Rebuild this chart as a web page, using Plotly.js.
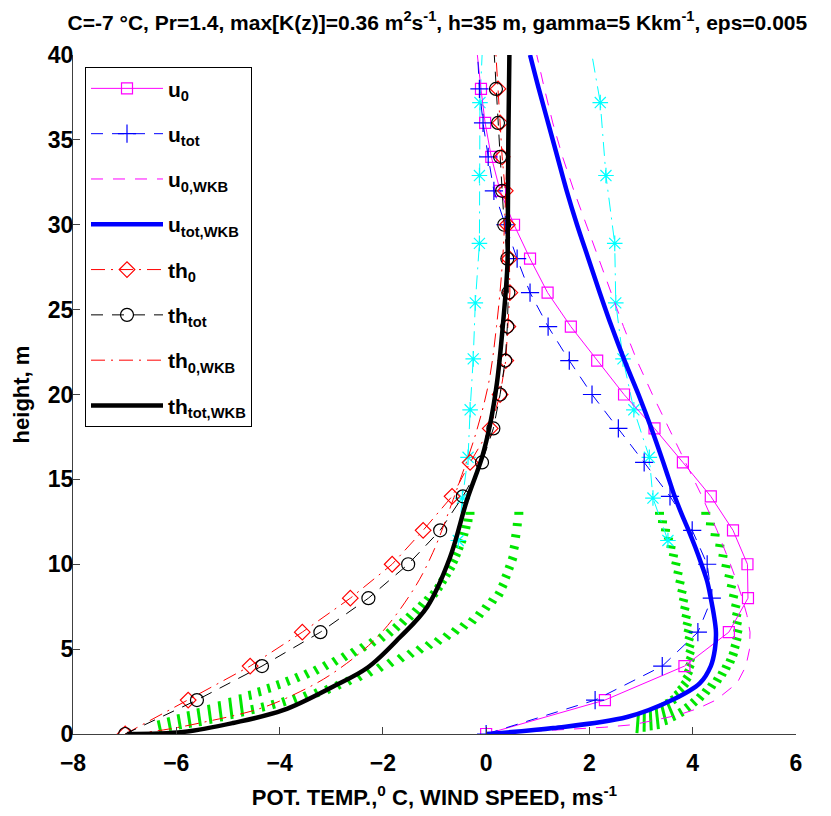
<!DOCTYPE html>
<html>
<head>
<meta charset="utf-8">
<script src="https://cdn.plot.ly/plotly-3.0.1.min.js"></script>
<style>html,body{margin:0;padding:0;background:#fff;}#chart{width:831px;height:816px;}</style>
</head>
<body>
<div id="chart"></div>
<script>
// ---- data ----
const zMark = [0,2,4,6,8,10,12,14,16,18,20,22,24,26,28,30,32,34,36,38,42];
const u0    = [0,2.3,3.84,4.7,5.07,5.06,4.78,4.35,3.81,3.26,2.67,2.15,1.64,1.19,0.85,0.54,0.27,0.1,-0.02,-0.1,-0.24];
const uTot  = [0,2.11,3.41,4.1,4.37,4.28,3.99,3.56,3.06,2.56,2.05,1.61,1.2,0.85,0.6,0.37,0.15,0.04,-0.06,-0.13,-0.2];
const th0   = [-6.99,-5.77,-4.57,-3.56,-2.63,-1.82,-1.22,-0.66,-0.31,0.08,0.27,0.38,0.42,0.46,0.45,0.41,0.37,0.31,0.27,0.23,0.15];
const thTot = [-6.99,-5.6,-4.34,-3.21,-2.28,-1.51,-0.89,-0.45,-0.08,0.14,0.27,0.37,0.41,0.43,0.41,0.35,0.31,0.27,0.23,0.19,0.12];

const zU0W  = [0,0.25,0.4,0.55,0.8,1.1,1.5,2,3,4,5,6,7,8,9,10,12,14,16,18,20,22,24,26,28,30,32,34,36,38,40];
const u0W   = [0,1.5,2.3,2.85,3.25,3.7,4.1,4.45,4.86,5.03,5.1,5.11,5.05,4.96,4.85,4.73,4.47,4.18,3.86,3.54,3.22,2.92,2.66,2.42,2.18,1.94,1.7,1.48,1.29,1.13,0.98];
const zUtW  = [0,0.35,1,2,3,4,5,6,7,8,9,10,11,12,13,14,15,16,18,20,22,24,26,28,30,32,34,36,38,40];
const uTotW = [0,1.3,2.73,3.6,4.14,4.35,4.43,4.45,4.41,4.35,4.28,4.17,4.05,3.92,3.78,3.65,3.54,3.43,3.2,2.95,2.68,2.43,2.2,1.98,1.76,1.56,1.38,1.2,1.02,0.85];

const zTh0W = [0,0.24,0.65,1.5,2.5,3.6,5.7,8.5,10.7,13.8,15,17.7,20.7,24,28,32,36,40];
const th0W  = [-6.9,-6.25,-5.54,-4.38,-3.6,-2.96,-2.11,-1.41,-1.03,-0.64,-0.5,-0.2,0.05,0.2,0.32,0.38,0.42,0.44];
const zThTW = [0,0.12,0.65,1.4,2.8,3.9,5.7,7.5,10.4,13.8,16.3,18.3,20.7,23.6,27.5,30,35,40];
const thTotW= [-6.95,-5.87,-4.9,-3.93,-2.96,-2.3,-1.67,-1.14,-0.7,-0.37,-0.08,0.08,0.21,0.31,0.41,0.42,0.43,0.45];

const zCyan = [11.4,13.9,16.3,19.1,22.1,25.4,28.9,32.9,37.2,41.9];
const cyanL = [-0.54,-0.46,-0.35,-0.31,-0.25,-0.21,-0.13,-0.13,-0.12,-0.05];
const cyanR = [3.52,3.23,3.16,2.86,2.65,2.51,2.49,2.32,2.21,1.94];

// green hatched bands: two edges each, matched pair by pair
const bandLAx = [-6.35,-5.6,-4.8,-4.1,-3.4,-2.7,-2.0,-1.5,-1.05,-0.75,-0.55,-0.4];
const bandLAz = [0.8,1.5,2.3,3.1,3.9,4.9,6.0,7.2,8.5,10,11.5,13];
const bandLBx = [-6.3,-5.55,-4.75,-3.95,-3.1,-2.3,-1.5,-0.8,-0.15,0.35,0.6,0.72];
const bandLBz = [0.1,0.45,1.0,1.6,2.3,3.3,4.4,5.4,6.6,8.2,10.3,13];
const bandRAx = [2.95,3.3,3.6,3.8,3.88,3.86,3.8,3.72,3.6,3.45,3.27];
const bandRAz = [1.25,1.65,2.3,3.2,4.3,5.5,6.8,8.3,10,11.5,13];
const bandRBx = [2.92,3.35,3.85,4.25,4.6,4.85,4.96,4.93,4.8,4.62,4.34];
const bandRBz = [0.05,0.3,1.1,2.1,3.2,4.4,5.8,7.3,9.1,11,13];

// ---- rendering helpers ----
const X0=-8, X1=6, Y0=0, Y1=40, W=723, H=679;
const PX=W/(X1-X0), PY=H/(Y1-Y0);
function at(xs, zs, t){ // position between read pairs, for hatch stroke placement
  const i=Math.min(Math.floor(t), xs.length-2), f=t-i;
  return [xs[i]+(xs[i+1]-xs[i])*f, zs[i]+(zs[i+1]-zs[i])*f];
}
function hatch(ax,az,bx,bz,m){
  const X=[], Y=[], Ls=9, n=ax.length;
  for(let k=0;k<m;k++){
    const t=(n-1)*k/(m-1);
    const A=at(ax,az,t), B=at(bx,bz,t);
    const dx=(B[0]-A[0]), dz=(B[1]-A[1]);
    const S=Math.hypot(dx*PX,dz*PY);
    if(S<2.6*Ls){X.push(A[0],B[0],null);Y.push(A[1],B[1],null);}
    else{const f=Ls/S;
      X.push(A[0],A[0]+f*dx,null,B[0],B[0]-f*dx,null);
      Y.push(A[1],A[1]+f*dz,null,B[1],B[1]-f*dz,null);}
  }
  return {x:X,y:Y};
}
const hL=hatch(bandLAx,bandLAz,bandLBx,bandLBz,44);
const hR=hatch(bandRAx,bandRAz,bandRBx,bandRBz,32);

const GREEN='#00e600';
const DD='14px,6px,2px,6px';
const traces=[
 {x:hL.x,y:hL.y,mode:'lines',line:{color:GREEN,width:3},showlegend:false,hoverinfo:'skip'},
 {x:hR.x,y:hR.y,mode:'lines',line:{color:GREEN,width:3},showlegend:false,hoverinfo:'skip'},
 {x:cyanL,y:zCyan,mode:'lines+markers',line:{color:'#00ffff',width:1,dash:DD},marker:{symbol:'asterisk-open',size:13,line:{color:'#00ffff',width:1.2}},showlegend:false},
 {x:cyanR,y:zCyan,mode:'lines+markers',line:{color:'#00ffff',width:1,dash:DD},marker:{symbol:'asterisk-open',size:13,line:{color:'#00ffff',width:1.2}},showlegend:false},
 {name:'u<sub>0</sub>',x:u0,y:zMark,mode:'lines+markers',line:{color:'#ff00ff',width:1},marker:{symbol:'square-open',size:11,color:'#ff00ff',line:{color:'#ff00ff',width:1.2}},legendgroup:'a'},
 {name:'u<sub>tot</sub>',x:uTot,y:zMark,mode:'lines+markers',line:{color:'#0000ff',width:1,dash:'12px,9px'},marker:{symbol:'cross-thin-open',size:13,color:'#0000ff',line:{color:'#0000ff',width:1.2}},legendgroup:'b'},
 {name:'u<sub>0,WKB</sub>',x:u0W,y:zU0W,mode:'lines',line:{color:'#ff00ff',width:1,dash:'12px,10px'},legendgroup:'c'},
 {name:'u<sub>tot,WKB</sub>',x:uTotW,y:zUtW,mode:'lines',line:{color:'#0000ff',width:4.5,shape:'spline'},legendgroup:'d'},
 {name:'th<sub>0</sub>',x:th0,y:zMark,mode:'lines+markers',line:{color:'#ff0000',width:1,dash:DD},marker:{symbol:'diamond-open',size:12,color:'#ff0000',line:{color:'#ff0000',width:1.2}},legendgroup:'e'},
 {name:'th<sub>tot</sub>',x:thTot,y:zMark,mode:'lines+markers',line:{color:'#000000',width:1,dash:'12px,9px'},marker:{symbol:'circle-open',size:13,color:'#000000',line:{color:'#000000',width:1.2}},legendgroup:'f'},
 {name:'th<sub>0,WKB</sub>',x:th0W,y:zTh0W,mode:'lines',line:{color:'#ff0000',width:1,dash:DD,shape:'spline'},legendgroup:'g'},
 {name:'th<sub>tot,WKB</sub>',x:thTotW,y:zThTW,mode:'lines',line:{color:'#000000',width:4.5,shape:'spline'},legendgroup:'h'}
];

const F='Liberation Sans, Arial, sans-serif';
const layout={
 width:831,height:816,
 margin:{l:73,r:35,t:55,b:82},
 paper_bgcolor:'#fff',plot_bgcolor:'#fff',
 showlegend:true,
 title:{text:'C=-7 °C, Pr=1.4, max[K(z)]=0.36 m<sup>2</sup>s<sup>-1</sup>, h=35 m, gamma=5 Kkm<sup>-1</sup>, eps=0.005',
   font:{family:F,size:21,color:'#000',weight:'bold'},x:0.504,xref:'paper',xanchor:'center',y:0.972,yref:'container',yanchor:'middle'},
 xaxis:{range:[X0,X1],tickmode:'linear',tick0:-8,dtick:2,ticks:'inside',ticklen:7,tickcolor:'#404040',
   showline:true,linecolor:'#404040',linewidth:1,showgrid:false,zeroline:false,mirror:false,
   tickfont:{family:F,size:23,color:'#000',weight:'bold'},ticklabelstandoff:8,
   title:{text:'POT. TEMP.,<sup>0</sup> C, WIND SPEED, ms<sup>-1</sup>',font:{family:F,size:22,color:'#000',weight:'bold'},standoff:15}},
 yaxis:{range:[Y0,Y1],tickmode:'linear',tick0:0,dtick:5,ticks:'inside',ticklen:7,tickcolor:'#404040',
   showline:true,linecolor:'#404040',linewidth:1,showgrid:false,zeroline:false,mirror:false,
   tickfont:{family:F,size:23,color:'#000',weight:'bold'},ticklabelstandoff:-6,
   title:{text:'height, m',font:{family:F,size:22,color:'#000',weight:'bold'},standoff:12}},
 legend:{x:0.0166,y:0.982,xanchor:'left',yanchor:'top',bgcolor:'#fff',bordercolor:'#000',borderwidth:1,
   font:{family:F,size:21,color:'#000',weight:'bold'},traceorder:'grouped',tracegroupgap:15,itemwidth:72}
};
Plotly.newPlot('chart',traces,layout,{displayModeBar:false,staticPlot:true});
</script>
</body>
</html>
